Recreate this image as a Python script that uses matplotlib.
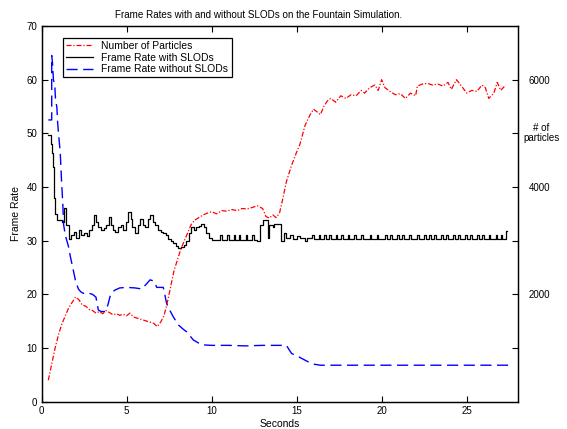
import matplotlib.pyplot as plt

plt.rcParams['font.family'] = ['Liberation Sans', 'DejaVu Sans']

# number of particles (red, right axis)
t_particles = [0.4, 0.6, 0.8, 1.0, 1.2, 1.4, 1.6, 1.8, 2.0, 2.2, 2.4, 2.6, 2.8, 3.0,
               3.2, 3.4, 3.6, 3.8, 4.0, 4.2, 4.4, 4.6, 4.8, 5.0, 5.2, 5.4, 5.6, 5.8,
               6.0, 6.2, 6.4, 6.6, 6.8, 7.0, 7.2, 7.4, 7.6, 7.8, 8.0, 8.2, 8.4, 8.6,
               8.8, 9.0, 9.2, 9.5, 9.8, 10.0, 10.3, 10.6, 10.9, 11.2, 11.5, 11.8,
               12.1, 12.4, 12.7, 13.0, 13.2, 13.4, 13.6, 13.8, 14.0, 14.2, 14.4,
               14.7, 15.0, 15.2, 15.5, 15.8, 16.0, 16.2, 16.4, 16.6, 16.8, 17.0,
               17.3, 17.6, 17.9, 18.2, 18.5, 18.8, 19.0, 19.3, 19.6, 19.8, 20.0,
               20.2, 20.5, 20.8, 21.1, 21.4, 21.7, 22.0, 22.1, 22.4, 22.7, 23.0,
               23.3, 23.6, 23.9, 24.1, 24.4, 24.7, 25.0, 25.3, 25.6, 25.9, 26.1,
               26.3, 26.6, 26.8, 27.0, 27.3]
particles = [400, 700, 1000, 1250, 1450, 1600, 1750, 1850, 1950, 1900, 1800, 1780,
             1720, 1700, 1650, 1680, 1640, 1700, 1660, 1620, 1640, 1610, 1630, 1600,
             1650, 1580, 1560, 1540, 1520, 1500, 1480, 1460, 1400, 1480, 1600, 1850,
             2150, 2450, 2650, 2850, 3000, 3150, 3300, 3380, 3420, 3480, 3520, 3540,
             3500, 3560, 3550, 3580, 3560, 3600, 3590, 3620, 3650, 3600, 3450, 3420,
             3480, 3430, 3520, 3800, 4100, 4400, 4650, 4800, 5150, 5350, 5450, 5400,
             5350, 5500, 5600, 5650, 5580, 5700, 5650, 5720, 5700, 5800, 5750, 5850,
             5900, 5800, 6000, 5850, 5780, 5720, 5740, 5650, 5750, 5700, 5880, 5920,
             5930, 5900, 5920, 5880, 5950, 5820, 6000, 5880, 5750, 5800, 5780, 5900,
             5850, 5650, 5750, 5950, 5800, 5900]

# frame rate with SLODs (black, stepped)
t_slod = [0.4, 0.55, 0.62, 0.7, 0.75, 0.8, 0.9, 1.05, 1.2, 1.3, 1.45, 1.6, 1.75,
          1.9, 2.05, 2.2, 2.35, 2.5, 2.65, 2.8, 2.95, 3.1, 3.2, 3.35, 3.5, 3.65,
          3.8, 3.95, 4.1, 4.2, 4.35, 4.5, 4.65, 4.8, 4.95, 5.1, 5.25, 5.35, 5.5,
          5.65, 5.8, 5.95, 6.1, 6.25, 6.4, 6.55, 6.7, 6.85, 7.0, 7.15, 7.3, 7.45,
          7.6, 7.75, 7.9, 8.05, 8.2, 8.35, 8.5, 8.65, 8.8, 8.95, 9.1, 9.25, 9.4,
          9.55, 9.7, 9.85, 10.0,
          10.2, 10.5, 10.6, 10.9, 11.0, 11.3, 11.4, 11.6, 11.7, 12.0, 12.1, 12.4,
          12.5, 12.7, 12.85, 13.0, 13.3, 13.4, 13.6, 13.7, 14.1, 14.25, 14.4, 14.6,
          14.8, 15.0, 15.2, 15.5, 15.6, 15.9, 16.0, 16.3, 16.4, 16.6, 16.7, 16.9,
          17.0, 17.3, 17.4, 17.6, 17.7, 18.0, 18.1, 18.4, 18.5, 18.8, 18.9, 19.3,
          19.4, 19.7, 19.8, 20.2, 20.3, 20.5, 20.6, 20.9, 21.0, 21.2, 21.3, 21.6,
          21.7, 22.1, 22.2, 22.5, 22.6, 22.8, 22.9, 23.1, 23.2, 23.5, 23.6, 23.8,
          23.9, 24.2, 24.3, 24.5, 24.6, 24.9, 25.0, 25.2, 25.3, 25.6, 25.7, 25.9,
          26.0, 26.3, 26.4, 26.7, 26.8, 27.0, 27.1, 27.3, 27.35]
fps_slod = [49.7, 48.0, 46.3, 43.8, 38.0, 35.0, 33.8, 33.8, 33.5, 36.0, 32.9, 30.4,
            31.0, 31.6, 30.5, 32.0, 31.0, 31.5, 30.8, 32.0, 33.0, 34.8, 33.5, 32.5,
            32.0, 32.3, 33.0, 34.4, 33.0, 32.0, 31.6, 32.5, 33.0, 32.0, 33.5, 35.4,
            34.0, 32.5, 31.5, 33.0, 34.0, 33.0, 32.5, 34.0, 34.8, 33.5, 33.0, 32.0,
            31.7, 31.5, 31.0, 30.4, 30.0, 29.5, 29.0, 28.6, 28.8, 29.2, 30.0, 31.5,
            32.6, 32.0, 32.5, 32.8, 33.2, 32.5, 31.5, 30.5, 30.2,
            30.2, 31.0, 30.2, 31.0, 30.2, 31.0, 30.2, 31.0, 30.2, 31.0, 30.2, 31.0,
            30.2, 30.0, 32.9, 33.8, 30.5, 33.0, 32.5, 33.2, 30.0, 31.5, 30.5, 31.0,
            30.3, 30.8, 30.5, 30.0, 30.5, 31.0, 30.3, 31.0, 30.3, 31.0, 30.3, 31.0,
            30.3, 31.0, 30.3, 31.0, 30.3, 31.0, 30.3, 31.0, 30.3, 31.0, 30.3, 31.0,
            30.3, 31.0, 30.3, 31.0, 30.3, 31.0, 30.3, 31.0, 30.3, 31.0, 30.3, 31.0,
            30.3, 31.0, 30.3, 31.0, 30.3, 31.0, 30.3, 31.0, 30.3, 31.0, 30.3, 31.0,
            30.3, 31.0, 30.3, 31.0, 30.3, 31.0, 30.3, 31.0, 30.3, 31.0, 30.3, 31.0,
            30.3, 31.0, 30.3, 31.0, 30.3, 31.0, 30.3, 31.8, 31.8]

# frame rate without SLODs (blue, dashed)
t_noslod = [0.4, 0.6, 0.6, 0.65, 0.7, 0.78, 0.83, 0.9, 0.95, 1.0, 1.1, 1.18, 1.25,
            1.3, 1.4, 1.58, 1.7, 1.87, 2.0, 2.17, 2.3, 2.46, 2.7, 3.0, 3.2, 3.34,
            3.5, 3.74, 3.9, 4.03, 4.2, 4.32, 4.6, 5.0, 5.5, 5.9, 6.19, 6.38, 6.6,
            6.78, 7.16, 7.36, 7.55, 7.75, 8.05, 8.3, 8.54, 8.93, 9.2, 9.42, 10.0,
            11.0, 12.0, 13.0, 14.0, 14.4, 14.7, 15.1, 15.4, 15.7, 16.0, 16.4, 17.0,
            20.0, 24.0, 27.5]
fps_noslod = [52.5, 52.5, 64.5, 63.0, 60.0, 59.0, 56.0, 55.0, 52.0, 50.0, 46.5, 41.0,
              37.0, 33.0, 31.0, 29.0, 27.0, 24.5, 22.5, 21.0, 20.5, 20.2, 20.3, 20.0,
              19.5, 17.1, 16.8, 16.8, 18.0, 19.6, 20.5, 20.8, 21.2, 21.3, 21.2, 21.0,
              22.0, 22.7, 22.5, 21.3, 21.3, 18.3, 17.0, 15.8, 14.3, 13.6, 13.0, 11.5,
              11.0, 10.6, 10.5, 10.5, 10.4, 10.5, 10.5, 10.5, 9.0, 8.4, 7.9, 7.4,
              7.0, 6.8, 6.8, 6.8, 6.8, 6.8]

fig = plt.figure(figsize=(5.67, 4.29), dpi=100)
ax = fig.add_axes([0.0732, 0.0636, 0.8398, 0.8758])
ax2 = ax.twinx()

l_black, = ax.plot(t_slod, fps_slod, color='black', lw=0.9, drawstyle='steps-post',
                   label='Frame Rate with SLODs')
l_blue, = ax.plot(t_noslod, fps_noslod, color='blue', lw=1.0, linestyle=(0, (8, 4)),
                  label='Frame Rate without SLODs')
l_red, = ax2.plot(t_particles, particles, color='red', lw=0.9,
                  linestyle=(0, (4, 1.5, 1, 1.5)), label='Number of Particles')

ax.set_xlim(0, 28)
ax.set_ylim(0, 70)
ax2.set_ylim(0, 7000)
ax.set_xticks([0, 5, 10, 15, 20, 25])
ax.set_yticks(range(0, 71, 10))
ax2.set_yticks([1000, 2000, 3000, 4000, 5000, 6000])
ax2.set_yticklabels(['', '2000', '', '4000', '', '6000'])

ax.tick_params(direction='in', top=True, labelsize=7, length=4, width=0.8, pad=3)
ax2.tick_params(direction='in', labelsize=7, length=4, width=0.8, pad=8)
for a in (ax, ax2):
    for s in a.spines.values():
        s.set_linewidth(0.9)

# right-axis label sits at the 5000 tick
ax2.annotate('# of\nparticles', xy=(1, 5000), xycoords=('axes fraction', 'data'),
             xytext=(17, 0), textcoords='offset points', ha='center', va='center',
             multialignment='center', fontsize=7, linespacing=1.0)

fig.text(0.4563, 1 - 14.5 / 429,
         'Frame Rates with and without SLODs on the Fountain Simulation.',
         fontsize=7.1, ha='center', va='center')
ax.set_xlabel('Seconds', fontsize=7.5, labelpad=2)
ax.set_ylabel('Frame Rate', fontsize=7.5, labelpad=4)

leg = ax2.legend(handles=[l_red, l_black, l_blue], loc='upper left',
                 bbox_to_anchor=(0.045, 0.968), fontsize=7.5, fancybox=False,
                 framealpha=1, edgecolor='black', handlelength=2.6,
                 borderpad=0.3, labelspacing=0.15, handletextpad=0.8,
                 borderaxespad=0)
leg.get_frame().set_linewidth(0.9)

fig.savefig('out.png', dpi=100)
